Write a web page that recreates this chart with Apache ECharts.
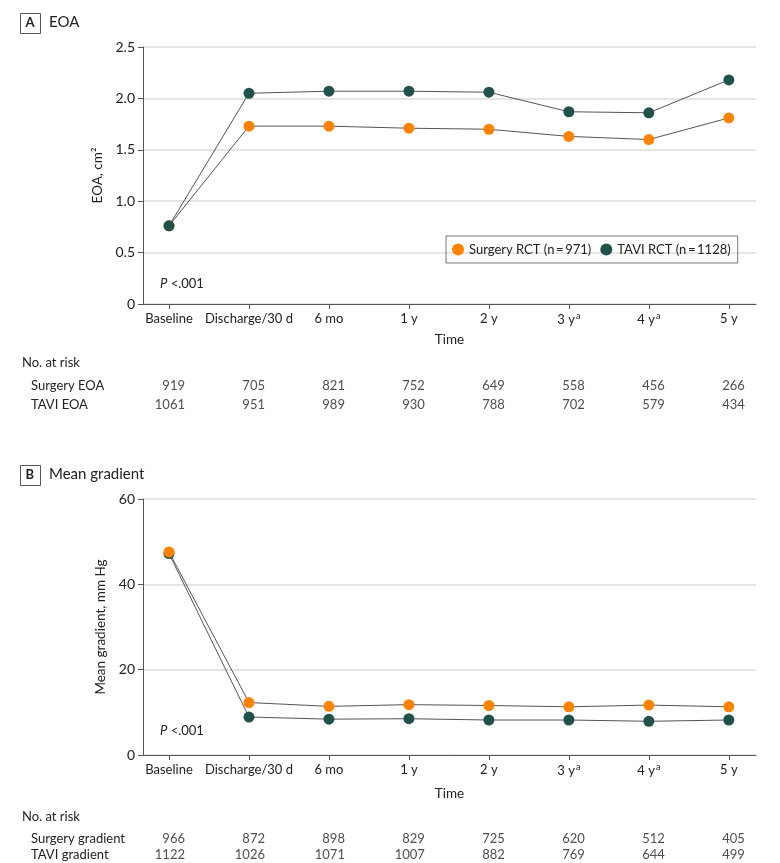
<!DOCTYPE html>
<html>
<head>
<meta charset="utf-8">
<script src="https://cdn.jsdelivr.net/npm/echarts@6/dist/echarts.min.js"></script>
<style>
  html, body { margin: 0; padding: 0; background: #fff; }
  #chart { width: 780px; height: 863px; }
</style>
</head>
<body>
<div id="chart"></div>
<script>
// time points along the x axis (index = position)
const timeLabels = ['Baseline', 'Discharge/30 d', '6 mo', '1 y', '2 y', '3 y', '4 y', '5 y'];
const timeNotes = ['', '', '', '', '', 'a', 'a', ''];

// panel A: effective orifice area, cm2
const eoaSurgery = [0.76, 1.73, 1.73, 1.71, 1.70, 1.63, 1.60, 1.81];
const eoaTavi = [0.76, 2.05, 2.07, 2.07, 2.06, 1.87, 1.86, 2.18];

// panel B: mean gradient, mm Hg
const gradSurgery = [47.6, 12.3, 11.4, 11.8, 11.6, 11.3, 11.7, 11.3];
const gradTavi = [47.2, 8.9, 8.4, 8.5, 8.2, 8.2, 7.9, 8.2];

// numbers at risk
const riskRowsA = ['Surgery EOA', 'TAVI EOA'];
const riskSurgeryEOA = [919, 705, 821, 752, 649, 558, 456, 266];
const riskTaviEOA = [1061, 951, 989, 930, 788, 702, 579, 434];
const riskRowsB = ['Surgery gradient', 'TAVI gradient'];
const riskSurgeryGrad = [966, 872, 898, 829, 725, 620, 512, 405];
const riskTaviGrad = [1122, 1026, 1071, 1007, 882, 769, 644, 499];

const ORANGE = '#FF8200';
const TEAL = '#22514C';
const LINE = '#555';
const TXT = '#222';
const FONT = 'Lato, "Noto Sans", sans-serif';
const tickIdx = timeLabels.map((_, i) => i);

function pairs(arr) {
  return arr.map((v, i) => [i, v]);
}
function riskData(row, arr) {
  return arr.map((v, i) => [i, row, v]);
}

function timeAxis(gridIndex, nameGap) {
  return {
    type: 'value',
    gridIndex: gridIndex,
    min: -0.325,
    max: 7.34,
    name: 'Time',
    nameLocation: 'middle',
    nameGap: nameGap,
    nameTextStyle: { fontFamily: FONT, fontSize: 13.5, color: TXT },
    splitLine: { show: false },
    axisLine: { show: true, onZero: false, lineStyle: { color: LINE, width: 1 } },
    axisTick: { show: true, customValues: tickIdx, length: 5, lineStyle: { color: LINE } },
    axisLabel: {
      show: true,
      customValues: tickIdx,
      margin: 8,
      fontFamily: FONT,
      fontSize: 13,
      color: TXT,
      formatter: function (v) {
        const i = Math.round(v);
        return timeNotes[i] ? timeLabels[i] + '{sup|' + timeNotes[i] + '}' : timeLabels[i];
      },
      rich: { sup: { fontFamily: FONT, fontSize: 9, color: TXT, padding: [0, 0, 6, 1] } }
    }
  };
}

function riskXAxis(gridIndex) {
  return { type: 'value', gridIndex: gridIndex, min: -0.325, max: 7.34, show: false };
}

function valueYAxis(gridIndex, max, interval, name, fmt) {
  return {
    type: 'value',
    gridIndex: gridIndex,
    min: 0,
    max: max,
    interval: interval,
    name: name,
    nameLocation: 'middle',
    nameGap: 33,
    nameTextStyle: { fontFamily: FONT, fontSize: 13.5, color: TXT },
    axisLine: { show: true, onZero: false, lineStyle: { color: LINE, width: 1 } },
    axisTick: { show: true, length: 5, lineStyle: { color: LINE } },
    axisLabel: { margin: 8, fontFamily: FONT, fontSize: 14, color: TXT, formatter: fmt },
    splitLine: { show: true, lineStyle: { color: '#dcdcdc', width: 1.5 } }
  };
}

function riskYAxis(gridIndex, rows) {
  return {
    type: 'category',
    gridIndex: gridIndex,
    data: rows,
    inverse: true,
    axisLine: { show: false },
    axisTick: { show: false },
    axisLabel: { interval: 0, align: 'left', margin: 112, fontFamily: FONT, fontSize: 13, color: TXT }
  };
}

function lineSeries(name, data, color, xi, yi, z) {
  return {
    name: name,
    type: 'line',
    xAxisIndex: xi,
    yAxisIndex: yi,
    data: pairs(data),
    symbol: 'circle',
    symbolSize: 11,
    z: z,
    lineStyle: { color: LINE, width: 1 },
    itemStyle: { color: color },
    emphasis: { disabled: true }
  };
}

function riskSeries(row, data, xi, yi) {
  return {
    type: 'scatter',
    xAxisIndex: xi,
    yAxisIndex: yi,
    data: riskData(row, data),
    symbolSize: 1,
    itemStyle: { color: 'rgba(0,0,0,0)' },
    label: {
      show: true,
      position: 'inside',
      align: 'right',
      offset: [16, 0],
      fontFamily: FONT,
      fontSize: 13,
      color: TXT,
      formatter: p => String(p.value[2])
    },
    emphasis: { disabled: true }
  };
}

function panelLabel(letter, title, y) {
  return [
    { type: 'rect', left: 20, top: y, shape: { width: 20, height: 20 }, style: { fill: '#fff', stroke: LINE, lineWidth: 1 } },
    { type: 'text', left: 25.5, top: y + 3.5, style: { text: letter, font: 'bold 13px ' + FONT, fill: TXT } },
    { type: 'text', left: 49, top: y + 2, style: { text: title, font: '15px ' + FONT, fill: TXT } }
  ];
}

function pText(x, y) {
  return {
    type: 'text', left: x, top: y,
    style: {
      text: '{i|P} <.001',
      font: '13px ' + FONT,
      fill: TXT,
      rich: { i: { fontStyle: 'italic', fontFamily: FONT, fontSize: 13, fill: TXT } }
    }
  };
}

const chart = echarts.init(document.getElementById('chart'));

const option = {
  animation: false,
  backgroundColor: '#fff',
  textStyle: { fontFamily: FONT },
  grid: [
    { left: 143, top: 47, width: 613, height: 257 },
    { left: 143, top: 376.5, width: 613, height: 38 },
    { left: 143, top: 499, width: 613, height: 256 },
    { left: 143, top: 830.5, width: 613, height: 38 }
  ],
  xAxis: [timeAxis(0, 29), riskXAxis(1), timeAxis(2, 32), riskXAxis(3)],
  yAxis: [
    valueYAxis(0, 2.5, 0.5, 'EOA, cm\u00B2', v => (v === 0 ? '0' : v.toFixed(1))),
    riskYAxis(1, riskRowsA),
    valueYAxis(2, 60, 20, 'Mean gradient, mm Hg', v => String(v)),
    riskYAxis(3, riskRowsB)
  ],
  legend: {
    left: 446,
    top: 236,
    data: ['Surgery RCT (n\u2009=\u2009971)', 'TAVI RCT (n\u2009=\u20091128)'],
    icon: 'circle',
    itemWidth: 12,
    itemHeight: 12,
    itemGap: 9,
    padding: [7, 7, 7, 6],
    borderColor: '#777',
    borderWidth: 1,
    textStyle: { fontFamily: FONT, fontSize: 13, color: TXT }
  },
  graphic: [
    ...panelLabel('A', 'EOA', 13),
    ...panelLabel('B', 'Mean gradient', 465),
    pText(160, 277),
    pText(160, 724),
    { type: 'text', left: 22, top: 356, style: { text: 'No. at risk', font: '13px ' + FONT, fill: TXT } },
    { type: 'text', left: 22, top: 810, style: { text: 'No. at risk', font: '13px ' + FONT, fill: TXT } }
  ],
  series: [
    lineSeries('Surgery RCT (n\u2009=\u2009971)', eoaSurgery, ORANGE, 0, 0, 2),
    lineSeries('TAVI RCT (n\u2009=\u20091128)', eoaTavi, TEAL, 0, 0, 3),
    lineSeries('TAVI RCT (n\u2009=\u20091128)', gradTavi, TEAL, 2, 2, 2),
    lineSeries('Surgery RCT (n\u2009=\u2009971)', gradSurgery, ORANGE, 2, 2, 3),
    riskSeries(riskRowsA[0], riskSurgeryEOA, 1, 1),
    riskSeries(riskRowsA[1], riskTaviEOA, 1, 1),
    riskSeries(riskRowsB[0], riskSurgeryGrad, 3, 3),
    riskSeries(riskRowsB[1], riskTaviGrad, 3, 3)
  ]
};

chart.setOption(option);
</script>
</body>
</html>
